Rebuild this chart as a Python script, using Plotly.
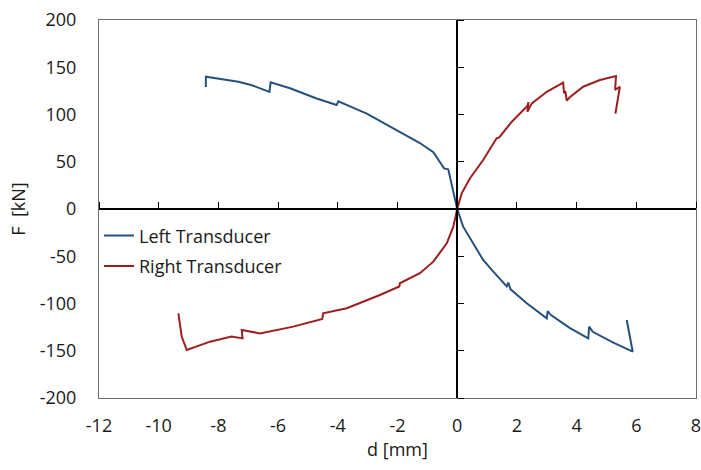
import plotly.graph_objects as go

# Left Transducer (blue)
left_d = [-8.42, -8.42, -7.33, -6.88, -6.29, -6.25, -5.6, -4.71, -4.04, -3.98, -3.03, -2.03,
          -1.47, -1.25, -0.8, -0.58, -0.44, -0.3, 0.0,
          0.2, 0.54, 0.87, 1.21, 1.66, 1.71, 1.79, 2.33, 3.0, 3.03, 3.13, 3.78, 4.39, 4.42, 4.54,
          5.23, 5.88, 5.68]
left_f = [129, 140, 134.7, 131, 124, 134, 127.7, 117, 110, 114, 101, 83.6,
          73, 69.8, 60, 50, 43, 42, 0,
          -18.7, -36.3, -54, -66.3, -82, -78, -85, -99.8, -115.7, -108, -112, -126, -137, -124.5, -130,
          -141.5, -151, -117.5]

# Right Transducer (red)
right_d = [-9.34, -9.23, -9.06, -8.28, -7.56, -7.19, -7.22, -6.61, -5.49, -4.52, -4.49, -3.7,
           -2.59, -1.94, -1.92, -1.25, -0.8, -0.35, -0.13, 0.0,
           0.15, 0.43, 0.87, 1.32, 1.41, 1.83, 2.35, 2.39, 2.35, 2.5, 3.0, 3.55, 3.58, 3.62, 3.67,
           3.76, 4.22, 4.78, 5.32, 5.29, 5.45, 5.3]
right_f = [-110.4, -135, -149.2, -140.4, -135, -136.9, -128, -131.6, -124.5, -116.4, -110.4, -105,
           -91, -82, -78.6, -68, -55.7, -36.3, -18.7, 0,
           16.6, 32.5, 51.8, 74.8, 75.8, 92.4, 109, 113, 103, 111.8, 124, 133.7, 122.4, 125, 114.6,
           118, 129.4, 136.5, 140.7, 126, 129.4, 101]

x_ticks = [-12, -10, -8, -6, -4, -2, 0, 2, 4, 6, 8]
x_labels = ["-12", "-10", "-8", "-6", "-4", "-2", "0", "2", "4", "6", "8"]
y_ticks = [-200, -150, -100, -50, 0, 50, 100, 150, 200]
y_labels = ["-200", "-150", "-100", "-50", "0", "50", "100", "150", "200"]
x_range = [-12, 8]
y_range = [-200, 200]

FONT = "Open Sans"
TXT = "#1a1a1a"

fig = go.Figure()
fig.add_trace(go.Scatter(x=left_d, y=left_f, mode="lines", name="Left Transducer",
                         legendgroup="a", line=dict(color="#25517c", width=2)))
fig.add_trace(go.Scatter(x=right_d, y=right_f, mode="lines", name="Right Transducer",
                         legendgroup="b", line=dict(color="#9c1e1e", width=2)))
# dummy trace so the zero-crossing axes get drawn
fig.add_trace(go.Scatter(x=[None], y=[None], xaxis="x2", yaxis="y2", showlegend=False,
                         hoverinfo="skip"))

xfrac = (0 - x_range[0]) / (x_range[1] - x_range[0])
yfrac = (0 - y_range[0]) / (y_range[1] - y_range[0])

fig.update_layout(
    width=701, height=470,
    margin=dict(l=99, r=5, t=20, b=72),
    paper_bgcolor="white", plot_bgcolor="white",
    font=dict(family=FONT, size=18, color=TXT),
    xaxis=dict(range=x_range, tickvals=x_ticks, ticktext=x_labels, showgrid=False, zeroline=False,
               showline=True, mirror=True, linecolor="#6e6e6e", linewidth=1,
               ticks="outside", ticklen=11, tickcolor="rgba(0,0,0,0)",
               ticklabeloverflow="allow",
               title=dict(text="d [mm]", standoff=2, font=dict(size=18)),
               tickfont=dict(size=18), automargin=False),
    yaxis=dict(range=y_range, tickvals=y_ticks, ticktext=y_labels, showgrid=False, zeroline=False,
               showline=True, mirror=True, linecolor="#6e6e6e", linewidth=1,
               ticks="outside", ticklen=18, tickcolor="rgba(0,0,0,0)",
               ticklabeloverflow="allow",
               title=dict(text="F  [kN]", standoff=9, font=dict(size=18)),
               tickfont=dict(size=18), automargin=False),
    xaxis2=dict(range=x_range, tickvals=x_ticks, overlaying="x", anchor="free", position=yfrac,
                side="top", showticklabels=False, ticks="outside", ticklen=6, tickcolor="black",
                tickwidth=1, showline=True, linecolor="black", linewidth=1.5,
                showgrid=False, zeroline=False),
    yaxis2=dict(range=y_range, tickvals=y_ticks, overlaying="y", anchor="free", position=xfrac,
                side="right", showticklabels=False, ticks="outside", ticklen=6, tickcolor="black",
                tickwidth=1, showline=True, linecolor="black", linewidth=1.5,
                showgrid=False, zeroline=False),
    legend=dict(x=0.0, y=0.478, xanchor="left", yanchor="top", bgcolor="rgba(0,0,0,0)",
                font=dict(size=18, color=TXT), itemwidth=30, tracegroupgap=4,
                traceorder="grouped"),
    showlegend=True,
)

fig.write_html("out.html")
